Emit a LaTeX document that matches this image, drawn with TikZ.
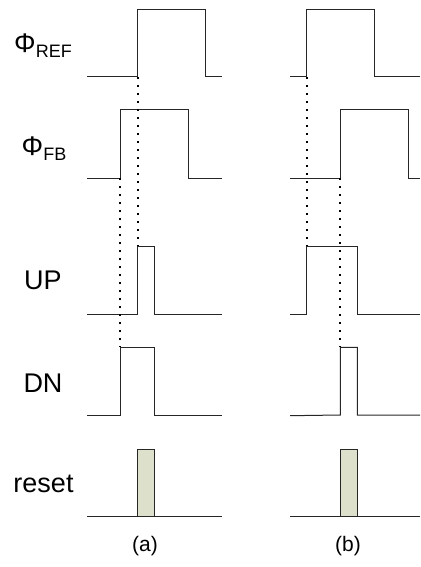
\documentclass[tikz,border=0pt]{standalone}
\usepackage{fontspec}
\setmainfont{Liberation Sans}
\usepackage{tikz}

\definecolor{grigioverde}{RGB}{221,225,203}
\newcommand{\pedice}[1]{\raisebox{-5pt}{\fontsize{18}{18}\selectfont #1}}

\begin{document}
\begin{tikzpicture}[x=1pt, y=-1pt,
    onda/.style={draw=black!85, line width=1pt},
    punti/.style={line width=1.7pt, dash pattern=on 1.7pt off 6.3pt},
    nome/.style={anchor=base, inner sep=0pt, font=\fontsize{27}{30}\selectfont},
    didascalia/.style={anchor=base, inner sep=0pt, font=\fontsize{21}{24}\selectfont}]
              \useasboundingbox (0,0) rectangle (420,567);

              % nomi dei segnali
              \node [nome] (nomeref) at (43, 53) {Φ\pedice{REF}};
              \node [nome] (nomefb) at (44, 155) {Φ\pedice{FB}};
              \node [nome] (nomeup) at (43, 289) {UP};
              \node [nome] (nomedn) at (43, 392) {DN};
              \node [nome] (nomereset) at (43.5, 492) {reset};
              \node [didascalia] (didascaliaa) at (145, 551) {(a)};
              \node [didascalia] (didascaliab) at (348, 551) {(b)};

              % caso (a)
              \draw [onda] (87,77) -- (137.7,77) -- (137.7,9.3) -- (205,9.3) -- (205,77) -- (222,77);
              \draw [onda] (87,178.3) -- (120.3,178.3) -- (120.3,110) -- (188.3,110) -- (188.3,178.3) -- (222,178.3);
              \draw [onda] (87,314) -- (137.7,314) -- (137.7,246) -- (154.3,246) -- (154.3,314) -- (222,314);
              \draw [onda] (87,415) -- (120.3,415) -- (120.3,347.3) -- (154.3,347.3) -- (154.3,415) -- (222,415);
              \draw [onda] (87,516.7) -- (137.7,516.7);
              \draw [onda, fill=grigioverde] (137.7,516.7) rectangle (154.3,449.3);
              \draw [onda] (154.3,516.7) -- (222,516.7);
              \draw [punti] (137.7,77) -- (137.7,246);
              \draw [punti] (120.3,178.3) -- (120.3,347.3);

              % caso (b)
              \draw [onda] (290,77) -- (306.7,77) -- (306.7,9.3) -- (374.3,9.3) -- (374.3,77) -- (420,77);
              \draw [onda] (290,178.3) -- (340.3,178.3) -- (340.3,110) -- (408,110) -- (408,178.3) -- (420,178.3);
              \draw [onda] (290,314) -- (306.7,314) -- (306.7,246) -- (357.3,246) -- (357.3,314) -- (420,314);
              \draw [onda] (290,415.7) -- (340.3,415) -- (340.3,347.3) -- (357.3,347.3) -- (357.3,415) -- (420,415);
              \draw [onda] (290,516.7) -- (340.3,516.7);
              \draw [onda, fill=grigioverde] (340.3,516.7) rectangle (357.3,449.3);
              \draw [onda] (357.3,516.7) -- (420,516.7);
              \draw [punti] (306.7,77) -- (306.7,246);
              \draw [punti] (340.3,178.3) -- (340.3,347.3);

            \end{tikzpicture}
\end{document}
